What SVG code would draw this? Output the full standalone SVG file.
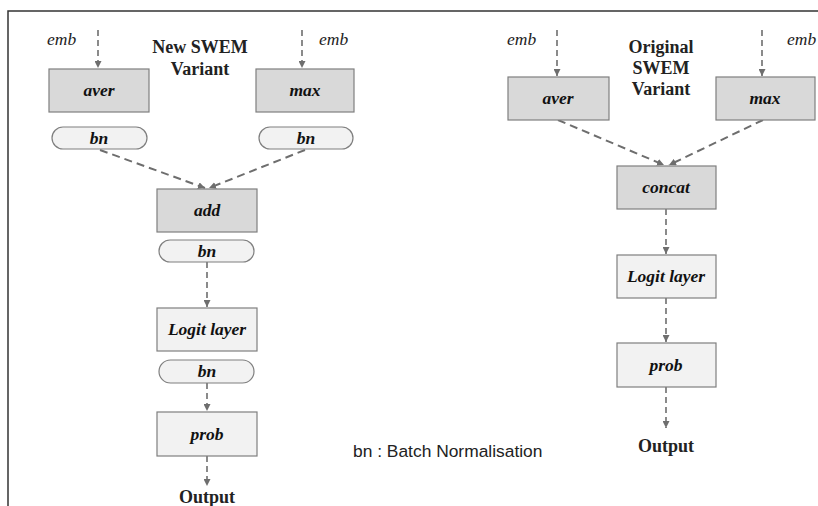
<svg xmlns="http://www.w3.org/2000/svg" width="818" height="506" viewBox="0 0 818 506">
<style>
.dark{fill:#d9d9d9;stroke:#7f7f7f;stroke-width:1.2}
.light{fill:#f2f2f2;stroke:#7f7f7f;stroke-width:1.2}
.lbl{font-family:"Liberation Serif",serif;font-style:italic;font-weight:bold;font-size:17.5px;fill:#111;text-anchor:middle}
.emb{font-family:"Liberation Serif",serif;font-style:italic;font-size:17.5px;fill:#222}
.ttl{font-family:"Liberation Serif",serif;font-weight:bold;font-size:18px;fill:#222;text-anchor:middle}
.leg{font-family:"Liberation Sans",Arial,sans-serif;font-size:17.4px;fill:#222}
.v{stroke:#6e6e6e;stroke-width:1.6;stroke-dasharray:6 4;fill:none;marker-end:url(#ah)}
.d{stroke:#6e6e6e;stroke-width:2;stroke-dasharray:8 5;fill:none;marker-end:url(#ah)}
</style>
<defs>
<marker id="ah" viewBox="0 0 10 10" refX="10" refY="5" markerWidth="7" markerHeight="7" markerUnits="userSpaceOnUse" orient="auto">
<path d="M0,0 L10,5 L0,10 z" fill="#6e6e6e"/>
</marker>
</defs>
<rect width="818" height="506" fill="#fff"/>
<path d="M8,506 V11 H818" fill="none" stroke="#333" stroke-width="1.5"/>

<g id="connectors">
<line class="v" x1="98" y1="30" x2="98" y2="68"/>
<line class="v" x1="302" y1="30" x2="302" y2="68"/>
<line class="d" x1="100" y1="150" x2="205" y2="188"/>
<line class="d" x1="305" y1="150" x2="209" y2="188"/>
<line class="v" x1="207" y1="262" x2="207" y2="307"/>
<line class="v" x1="207" y1="383" x2="207" y2="411"/>
<line class="v" x1="207" y1="456" x2="207" y2="486"/>
<line class="v" x1="557" y1="30" x2="557" y2="76"/>
<line class="v" x1="762" y1="30" x2="762" y2="76"/>
<line class="d" x1="558" y1="120" x2="664" y2="165"/>
<line class="d" x1="763" y1="120" x2="669" y2="165"/>
<line class="v" x1="666" y1="209" x2="666" y2="254"/>
<line class="v" x1="666" y1="298" x2="666" y2="342"/>
<line class="v" x1="666" y1="387" x2="666" y2="428"/>
</g>

<g id="labels-left">
<text class="emb" x="47" y="45">emb</text>
<text class="emb" x="319" y="45">emb</text>
<text class="ttl" x="200" y="53">New SWEM</text>
<text class="ttl" x="200" y="75">Variant</text>
</g>
<g id="n-aver-l"><rect class="dark" x="49" y="69" width="100" height="43"/><text class="lbl" x="99" y="96">aver</text></g>
<g id="n-max-l"><rect class="dark" x="256" y="69" width="98" height="43"/><text class="lbl" x="305" y="96">max</text></g>
<g id="n-bn1"><rect class="light" x="52" y="127" width="95" height="22" rx="11"/><text class="lbl" x="99" y="144">bn</text></g>
<g id="n-bn2"><rect class="light" x="259" y="127" width="94" height="22" rx="11"/><text class="lbl" x="306" y="144">bn</text></g>
<g id="n-add"><rect class="dark" x="157" y="189" width="100" height="43"/><text class="lbl" x="207" y="216">add</text></g>
<g id="n-bn3"><rect class="light" x="159" y="240" width="95" height="22" rx="11"/><text class="lbl" x="207" y="257">bn</text></g>
<g id="n-logit-l"><rect class="light" x="157" y="308" width="100" height="43"/><text class="lbl" x="207" y="335">Logit layer</text></g>
<g id="n-bn4"><rect class="light" x="159" y="360" width="95" height="23" rx="11.5"/><text class="lbl" x="207" y="377">bn</text></g>
<g id="n-prob-l"><rect class="light" x="157" y="412" width="100" height="44"/><text class="lbl" x="207" y="440">prob</text></g>
<g id="n-out-l"><text class="ttl" x="207" y="503">Output</text></g>

<g id="legend"><text class="leg" x="353" y="457">bn : Batch Normalisation</text></g>

<g id="labels-right">
<text class="emb" x="507" y="45">emb</text>
<text class="emb" x="787" y="45">emb</text>
<text class="ttl" x="661" y="53">Original</text>
<text class="ttl" x="661" y="74">SWEM</text>
<text class="ttl" x="661" y="95">Variant</text>
</g>
<g id="n-aver-r"><rect class="dark" x="508" y="77" width="101" height="43"/><text class="lbl" x="558" y="104">aver</text></g>
<g id="n-max-r"><rect class="dark" x="716" y="77" width="99" height="43"/><text class="lbl" x="765" y="104">max</text></g>
<g id="n-concat"><rect class="dark" x="617" y="166" width="99" height="43"/><text class="lbl" x="666" y="193">concat</text></g>
<g id="n-logit-r"><rect class="light" x="617" y="255" width="99" height="43"/><text class="lbl" x="666" y="282">Logit layer</text></g>
<g id="n-prob-r"><rect class="light" x="617" y="343" width="99" height="44"/><text class="lbl" x="666" y="371">prob</text></g>
<g id="n-out-r"><text class="ttl" x="666" y="452">Output</text></g>
</svg>
